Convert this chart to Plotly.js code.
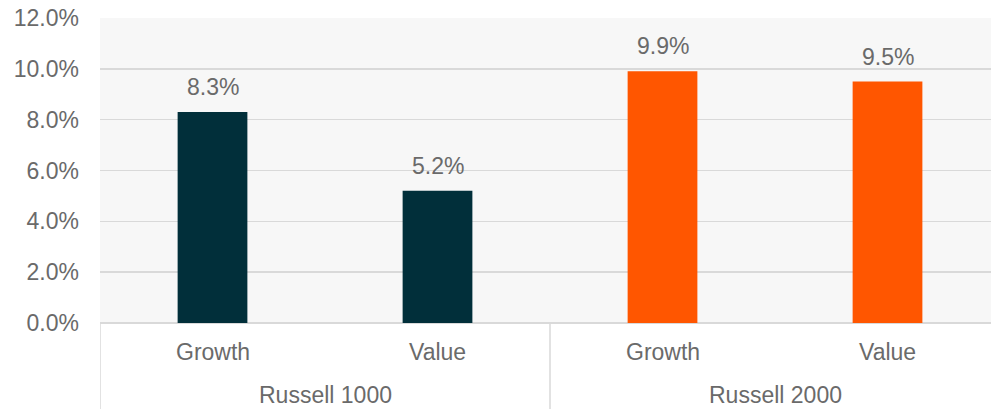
<!DOCTYPE html>
<html><head><meta charset="utf-8">
<script src="https://cdn.plot.ly/plotly-3.0.1.min.js"></script>
<style>html,body{margin:0;padding:0;background:#fff}#c{width:991px;height:409px}</style>
</head><body><div id="c"></div>
<script>
const groups = ["Russell 1000", "Russell 1000", "Russell 2000", "Russell 2000"];
const styles = ["Growth", "Value", "Growth", "Value"];
const values = [8.3, 5.2, 9.9, 9.5];
const barColors = ["#012f3a", "#012f3a", "#ff5600", "#ff5600"];
const groupNames = ["Russell 1000", "Russell 2000"];
const yTicks = [0, 2, 4, 6, 8, 10, 12];

const idx = values.map((v, i) => i);
const font = {family: "Liberation Sans, Arial, sans-serif", size: 23, color: "#6a6a6a"};

const annotations = [];
idx.forEach(i => {
  annotations.push({x: i, y: values[i], xref: "x", yref: "y", text: values[i].toFixed(1) + "%",
    showarrow: false, yanchor: "bottom", yshift: 10, font: font});
  annotations.push({x: i, y: 0, xref: "x", yref: "paper", text: styles[i],
    showarrow: false, yanchor: "middle", yshift: -29, font: font});
});
groupNames.forEach((g, k) => {
  const members = idx.filter(i => groups[i] === g);
  const cx = (members[0] + members[members.length - 1]) / 2;
  annotations.push({x: cx, y: 0, xref: "x", yref: "paper", text: g,
    showarrow: false, yanchor: "middle", yshift: -72, font: font});
});

const shapes = [];
[-0.5, 1.5].forEach(xv => {
  shapes.push({type: "line", xref: "x", yref: "paper", x0: xv, x1: xv, y0: 0, y1: -0.3,
    line: {color: "#d9d9d9", width: 1.5}});
});

Plotly.newPlot("c", [{
  type: "bar", x: idx, y: values, width: 0.31,
  marker: {color: barColors}, hoverinfo: "none"
}], {
  width: 991, height: 409,
  margin: {l: 100, r: 0, t: 18, b: 86},
  paper_bgcolor: "#ffffff", plot_bgcolor: "#f7f7f7",
  showlegend: false,
  xaxis: {range: [-0.5, 3.46], showticklabels: false, showgrid: false, zeroline: false,
    showline: false, ticks: "", fixedrange: true},
  yaxis: {range: [0, 12], tickvals: yTicks, ticktext: yTicks.map(t => t.toFixed(1) + "%"),
    showgrid: true, gridcolor: "#d9d9d9", gridwidth: 1.5, zeroline: true, zerolinecolor: "#d9d9d9",
    zerolinewidth: 1.5, showline: false, ticks: "", tickfont: font, ticklabelstandoff: 20},
  annotations: annotations,
  shapes: shapes
}, {staticPlot: true});
</script></body></html>
